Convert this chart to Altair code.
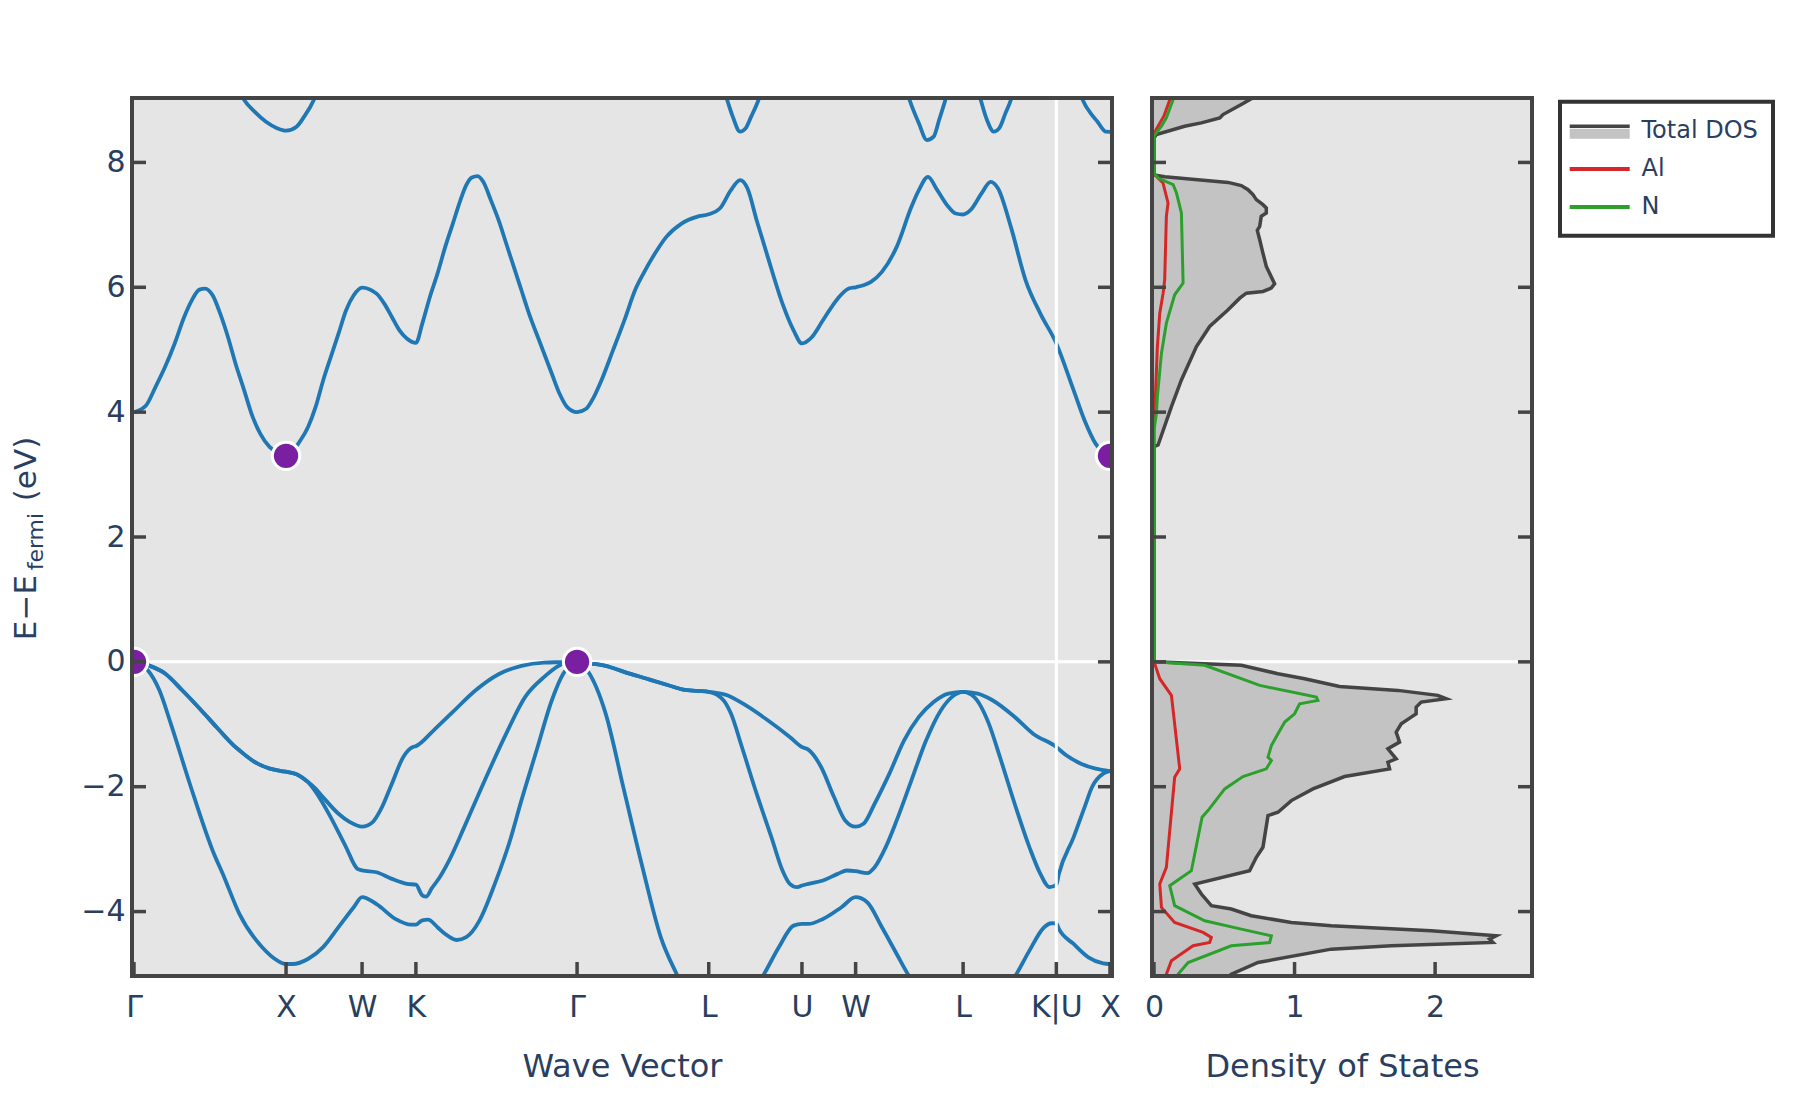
import altair as alt
import pandas as pd

# ---------------- data ----------------
kpoint_labels = ["Γ", "X", "W", "K", "Γ", "L", "U", "W", "L", "K|U", "X"]
kpoint_pos = [0.0, 1.0, 1.5, 1.854, 2.914, 3.780, 4.393, 4.746, 5.453, 6.066, 6.419]
energy_ticks = [-4, -2, 0, 2, 4, 6, 8]
dos_ticks = [0, 1, 2]
E_MIN, E_MAX = -5.0, 9.0
K_END = 6.419
DOS_MAX = 2.675

vb1_k = [0.0, 0.091, 0.167, 0.242, 0.367, 0.517, 0.593, 0.693, 0.843, 0.944, 1.0, 1.044, 1.144, 1.244, 1.345,
         1.445, 1.5, 1.595, 1.721, 1.821, 1.854, 1.896, 1.934, 1.996, 2.047, 2.122, 2.185, 2.272, 2.373, 2.473,
         2.548, 2.648, 2.748, 2.824, 2.914, 2.98, 3.102, 3.223, 3.344, 3.465, 3.574, 3.68, 3.78, 4.0, 4.144,
         4.241, 4.338, 4.393, 4.435, 4.531, 4.653, 4.746, 4.822, 4.919, 5.016, 5.089, 5.27, 5.453, 5.62, 5.804,
         5.889, 5.986, 6.034, 6.066, 6.083, 6.18, 6.277, 6.374, 6.419]
vb1_e = [0.0, -0.134, -0.455, -0.989, -1.952, -3.021, -3.449, -4.037, -4.572, -4.786, -4.84, -4.84, -4.76, -4.57,
         -4.25, -3.93, -3.77, -3.88, -4.12, -4.21, -4.21, -4.14, -4.13, -4.25, -4.36, -4.455, -4.41, -4.144,
         -3.556, -2.861, -2.219, -1.417, -0.615, -0.187, 0.0, -0.134, -0.829, -2.059, -3.289, -4.412, -5.027,
         -5.55, -5.9, -5.55, -5.0, -4.572, -4.225, -4.198, -4.198, -4.118, -3.93, -3.77, -3.85, -4.251, -4.679,
         -5.0, -5.6, -5.9, -5.6, -5.0, -4.626, -4.251, -4.187, -4.19, -4.278, -4.519, -4.733, -4.829, -4.84]

vb2_k = [0.0, 0.091, 0.204, 0.317, 0.442, 0.542, 0.655, 0.693, 0.793, 0.893, 0.969, 1.0, 1.069, 1.144, 1.194,
         1.294, 1.395, 1.47, 1.5, 1.595, 1.696, 1.796, 1.854, 1.896, 1.921, 1.96, 1.996, 2.072, 2.172, 2.297,
         2.448, 2.573, 2.698, 2.824, 2.914, 3.005, 3.102, 3.223, 3.368, 3.514, 3.611, 3.707, 3.78, 3.877, 3.926,
         3.998, 4.095, 4.192, 4.265, 4.313, 4.362, 4.393, 4.435, 4.531, 4.628, 4.689, 4.746, 4.822, 4.871, 4.944,
         5.016, 5.113, 5.210, 5.307, 5.380, 5.453, 5.525, 5.622, 5.695, 5.792, 5.889, 5.961, 6.022, 6.066, 6.083,
         6.180, 6.252, 6.301, 6.374, 6.419]
vb2_e = [0.0, -0.053, -0.187, -0.455, -0.775, -1.043, -1.337, -1.417, -1.604, -1.711, -1.749, -1.76, -1.80,
         -1.925, -2.08, -2.49, -2.97, -3.316, -3.34, -3.37, -3.476, -3.556, -3.57, -3.74, -3.76, -3.62, -3.503,
         -3.182, -2.647, -1.952, -1.15, -0.561, -0.241, -0.027, 0.0, -0.027, -0.064, -0.16, -0.267, -0.374,
         -0.444, -0.465, -0.48, -0.615, -0.829, -1.364, -2.112, -2.807, -3.342, -3.556, -3.61, -3.583, -3.556,
         -3.503, -3.396, -3.342, -3.353, -3.385, -3.289, -2.968, -2.54, -1.898, -1.257, -0.775, -0.561, -0.48,
         -0.561, -0.989, -1.524, -2.273, -2.968, -3.396, -3.61, -3.57, -3.396, -2.807, -2.326, -2.005, -1.791,
         -1.75]

vb3_k = [0.0, 0.091, 0.204, 0.317, 0.442, 0.542, 0.655, 0.693, 0.793, 0.893, 0.969, 1.0, 1.069, 1.144, 1.194,
         1.244, 1.345, 1.42, 1.5, 1.57, 1.62, 1.696, 1.771, 1.834, 1.854, 1.971, 2.097, 2.247, 2.398, 2.548,
         2.698, 2.799, 2.914, 3.005, 3.102, 3.223, 3.368, 3.514, 3.611, 3.707, 3.78, 3.901, 4.022, 4.168, 4.313,
         4.393, 4.435, 4.519, 4.604, 4.677, 4.746, 4.798, 4.871, 4.968, 5.065, 5.162, 5.259, 5.356, 5.453, 5.549,
         5.646, 5.792, 5.913, 6.066, 6.131, 6.228, 6.325, 6.419]
vb3_e = [0.0, -0.053, -0.187, -0.455, -0.775, -1.043, -1.337, -1.417, -1.604, -1.711, -1.749, -1.76, -1.80,
         -1.925, -2.03, -2.17, -2.433, -2.567, -2.64, -2.567, -2.38, -1.952, -1.524, -1.364, -1.35, -1.096,
         -0.802, -0.455, -0.198, -0.064, -0.011, -0.005, 0.0, -0.027, -0.064, -0.16, -0.267, -0.374, -0.444,
         -0.465, -0.48, -0.535, -0.695, -0.936, -1.203, -1.364, -1.406, -1.684, -2.166, -2.54, -2.64, -2.594,
         -2.273, -1.791, -1.257, -0.882, -0.642, -0.508, -0.48, -0.508, -0.615, -0.882, -1.15, -1.364, -1.497,
         -1.631, -1.711, -1.75]

cb1_k = [0.0, 0.079, 0.141, 0.204, 0.267, 0.33, 0.38, 0.43, 0.467, 0.517, 0.567, 0.618, 0.668, 0.718, 0.781,
         0.831, 0.893, 0.956, 1.0, 1.094, 1.144, 1.194, 1.244, 1.294, 1.345, 1.395, 1.445, 1.5, 1.595, 1.646,
         1.696, 1.746, 1.796, 1.854, 1.896, 1.946, 1.996, 2.047, 2.097, 2.147, 2.185, 2.222, 2.26, 2.297, 2.347,
         2.398, 2.448, 2.498, 2.548, 2.598, 2.673, 2.748, 2.799, 2.849, 2.914, 2.974, 3.024, 3.074, 3.150, 3.225,
         3.300, 3.350, 3.426, 3.501, 3.601, 3.701, 3.78, 3.853, 3.926, 3.986, 4.035, 4.095, 4.168, 4.265, 4.338,
         4.393, 4.459, 4.531, 4.628, 4.701, 4.746, 4.798, 4.847, 4.919, 5.016, 5.113, 5.162, 5.222, 5.283, 5.356,
         5.404, 5.453, 5.501, 5.574, 5.634, 5.683, 5.767, 5.864, 5.961, 6.066, 6.180, 6.252, 6.325, 6.419]
cb1_e = [4.0, 4.107, 4.401, 4.722, 5.096, 5.524, 5.791, 5.963, 5.979, 5.872, 5.578, 5.203, 4.775, 4.401, 3.920,
         3.652, 3.439, 3.342, 3.30, 3.545, 3.759, 4.080, 4.508, 4.882, 5.257, 5.631, 5.872, 5.995, 5.898, 5.738,
         5.524, 5.310, 5.176, 5.11, 5.417, 5.845, 6.219, 6.647, 7.021, 7.396, 7.636, 7.759, 7.781, 7.690, 7.396,
         7.075, 6.701, 6.326, 5.952, 5.578, 5.096, 4.615, 4.294, 4.080, 4.0, 4.053, 4.241, 4.508, 4.989, 5.471,
         5.979, 6.219, 6.540, 6.807, 7.021, 7.128, 7.17, 7.262, 7.556, 7.717, 7.583, 7.075, 6.487, 5.738, 5.310,
         5.10, 5.203, 5.471, 5.818, 5.979, 6.0, 6.032, 6.086, 6.246, 6.647, 7.289, 7.556, 7.770, 7.556, 7.289,
         7.182, 7.166, 7.235, 7.503, 7.690, 7.583, 6.968, 6.112, 5.578, 5.10, 4.348, 3.866, 3.492, 3.30]

cb2_k = [0.60, 0.718, 0.793, 0.868, 0.944, 1.0, 1.069, 1.119, 1.182, 1.26, 3.82, 3.901, 3.938, 3.986, 4.022,
         4.059, 4.107, 4.18, 5.03, 5.101, 5.162, 5.215, 5.259, 5.295, 5.336, 5.40, 5.50, 5.569, 5.610, 5.654,
         5.690, 5.731, 5.767, 5.83, 6.17, 6.240, 6.301, 6.337, 6.393, 6.419]
cb2_e = [9.8, 9.027, 8.813, 8.652, 8.545, 8.508, 8.572, 8.733, 9.0, 9.6, 9.6, 9.0, 8.733, 8.492, 8.545, 8.733,
         9.0, 9.6, 9.6, 9.0, 8.626, 8.358, 8.412, 8.679, 9.0, 9.6, 9.6, 9.0, 8.679, 8.492, 8.545, 8.786, 9.0,
         9.6, 9.6, 9.0, 8.759, 8.652, 8.492, 8.49]

extrema_k = [0.0, 1.0, 2.914, 6.419]
extrema_e = [0.0, 3.30, 0.0, 3.30]

dos_total_e = [-5.1, -5.003, -4.816, -4.602, -4.548, -4.495, -4.441, -4.388, -4.307, -4.227, -4.174, -4.067,
               -3.960, -3.906, -3.719, -3.559, -3.345, -3.131, -2.971, -2.463, -2.409, -2.222, -2.035, -1.837,
               -1.714, -1.607, -1.553, -1.393, -1.286, -1.126, -0.992, -0.885, -0.832, -0.725, -0.644, -0.591,
               -0.537, -0.457, -0.393, -0.270, -0.190, -0.056, 0.0, 3.446, 3.473, 4.088, 4.516, 5.051, 5.372,
               5.639, 5.826, 5.906, 5.933, 5.987, 6.056, 6.334, 6.548, 6.762, 6.912, 6.976, 7.136, 7.190, 7.270,
               7.323, 7.404, 7.484, 7.564, 7.63, 7.68, 7.77, 7.80, 8.39, 8.446, 8.580, 8.634, 8.714, 8.767, 8.928,
               9.035, 9.1]
dos_total = [0.50, 0.550, 0.740, 1.261, 1.688, 2.411, 2.387, 2.434, 1.972, 1.261, 0.977, 0.692, 0.550, 0.408,
             0.337, 0.290, 0.680, 0.728, 0.775, 0.811, 0.882, 0.977, 1.131, 1.356, 1.676, 1.664, 1.723, 1.664,
             1.747, 1.723, 1.759, 1.830, 1.865, 1.865, 1.901, 2.079, 2.019, 1.735, 1.320, 1.072, 0.882, 0.621,
             0.0, 0.0, 0.029, 0.124, 0.195, 0.302, 0.396, 0.527, 0.610, 0.657, 0.775, 0.834, 0.858, 0.799, 0.775,
             0.752, 0.735, 0.752, 0.763, 0.799, 0.799, 0.775, 0.728, 0.704, 0.669, 0.621, 0.527, 0.076, 0.0, 0.0,
             0.017, 0.218, 0.337, 0.468, 0.491, 0.621, 0.704, 0.74]

dos_al_e = [-5.1, -5.003, -4.789, -4.548, -4.495, -4.414, -4.334, -4.174, -3.933, -3.559, -3.292, -1.848,
            -1.714, -0.537, -0.27, -0.03, 0.0, 3.9, 3.981, 4.249, 5.051, 5.585, 5.906, 6.120, 7.136, 7.35, 7.671,
            7.778, 7.82, 8.45, 8.526, 8.74, 9.05, 9.1]
dos_al = [0.08, 0.088, 0.124, 0.278, 0.396, 0.408, 0.349, 0.147, 0.053, 0.041, 0.088, 0.147, 0.183, 0.124,
          0.041, 0.005, 0.0, 0.0, 0.005, 0.010, 0.024, 0.041, 0.065, 0.076, 0.088, 0.100, 0.064, 0.017, 0.0,
          0.0, 0.015, 0.07, 0.12, 0.13]

dos_n_e = [-5.1, -5.003, -4.816, -4.548, -4.495, -4.388, -4.281, -4.147, -3.906, -3.586, -3.345, -2.489,
           -2.382, -2.035, -1.837, -1.714, -1.580, -1.527, -1.340, -1.152, -0.965, -0.832, -0.671, -0.618,
           -0.564, -0.377, -0.056, 0.0, 3.71, 3.981, 4.249, 4.944, 5.425, 5.88, 6.067, 7.19, 7.51, 7.644, 7.75,
           7.83, 8.42, 8.473, 8.58, 8.714, 9.008, 9.1]
dos_n = [0.16, 0.171, 0.243, 0.550, 0.823, 0.835, 0.621, 0.361, 0.147, 0.112, 0.266, 0.342, 0.384, 0.503,
         0.633, 0.799, 0.835, 0.811, 0.835, 0.882, 0.93, 1.0, 1.036, 1.166, 1.155, 0.752, 0.361, 0.0, 0.0,
         0.017, 0.024, 0.053, 0.088, 0.147, 0.207, 0.195, 0.16, 0.136, 0.029, 0.0, 0.0, 0.017, 0.053, 0.088,
         0.136, 0.15]

legend_names = ["Total DOS", "Al", "N"]
legend_colors = ["#444444", "#d62728", "#2ca02c"]

# ---------------- styling ----------------
FONT = "DejaVu Sans"
TEXT = "#2a3f5f"
FRAME = "#444444"
BG = "#e5e5e5"
BAND_COLOR = "#1f77b4"
DOT_COLOR = "#7B1FA2"
FILL_GREY = "#c3c3c3"
BW, BH = 976, 874
DW = 376
TICK = 12

# ---------------- frames ----------------
band_rows = []
for name, ks, es in [("VB1", vb1_k, vb1_e), ("VB2", vb2_k, vb2_e), ("VB3", vb3_k, vb3_e),
                     ("CB1", cb1_k, cb1_e), ("CB2", cb2_k, cb2_e)]:
    for i, (k, e) in enumerate(zip(ks, es)):
        band_rows.append({"band": name, "k": k, "E": e, "idx": i})
band_df = pd.DataFrame(band_rows)
dots_df = pd.DataFrame({"k": extrema_k, "E": extrema_e})
ktick_df = pd.DataFrame({"k": kpoint_pos, "label": kpoint_labels})
etick_df = pd.DataFrame({"E": energy_ticks})
zero_df = pd.DataFrame({"E": [0.0]})
one_df = pd.DataFrame({"a": [0]})


def dos_frame(es, ds):
    return pd.DataFrame({"E": es, "D": ds, "base": [0.0] * len(es), "idx": list(range(len(es)))})


tot_df = dos_frame(dos_total_e, dos_total)
al_df = dos_frame(dos_al_e, dos_al)
n_df = dos_frame(dos_n_e, dos_n)
dtick_df = pd.DataFrame({"D": dos_ticks})

# ---------------- encodings ----------------
label_expr = " : ".join(
    f"abs(datum.value - {p}) < 0.0005 ? '{lab}'" for p, lab in zip(kpoint_pos, kpoint_labels)
) + " : ''"

axis_common = dict(ticks=False, tickSize=0, domain=False, grid=False, labelFontSize=30, labelColor=TEXT,
                   labelFont=FONT, titleFont=FONT, titleFontSize=32, titleColor=TEXT,
                   titleFontWeight="normal", labelFlush=False, labelOverlap=False)

k_scale = alt.Scale(domain=[0, K_END], nice=False, zero=False)
k_axis = alt.Axis(values=kpoint_pos, labelExpr=label_expr, title="Wave Vector", labelPadding=18,
                  titlePadding=29, **axis_common)
e_scale = alt.Scale(domain=[E_MIN, E_MAX], nice=False, zero=False)
e_axis = alt.Axis(values=energy_ticks, title=None, labelPadding=9, **axis_common)
d_scale = alt.Scale(domain=[0, DOS_MAX], nice=False, zero=False)
d_axis = alt.Axis(values=dos_ticks, title="Density of States", labelPadding=18, titlePadding=29,
                  **axis_common)


def kx():
    return alt.X("k:Q", scale=k_scale, axis=k_axis)


def ey():
    return alt.Y("E:Q", scale=e_scale, axis=e_axis)


def dx():
    return alt.X("D:Q", scale=d_scale, axis=d_axis, stack=None)


def dy():
    return alt.Y("E:Q", scale=e_scale, axis=None)


# ---------------- band panel ----------------
b_zero = alt.Chart(zero_df).mark_rule(color="white", strokeWidth=3).encode(y=ey())
b_lines = alt.Chart(band_df).mark_line(color=BAND_COLOR, strokeWidth=3.8, interpolate="monotone",
                                       clip=True).encode(x=kx(), y=ey(), detail="band:N", order="idx:Q")
b_kuline = alt.Chart(ktick_df).transform_filter("indexof(datum.label, '|') >= 0").mark_rule(
    color="white", strokeWidth=3).encode(x=kx())
b_dots = alt.Chart(dots_df).mark_circle(size=750, fill=DOT_COLOR, stroke="white", strokeWidth=3, opacity=1,
                                        clip=True).encode(x=kx(), y=ey())
b_lt = alt.Chart(etick_df).mark_rule(color=FRAME, strokeWidth=3.5).encode(
    y=ey(), x=alt.value(0), x2=alt.value(TICK))
b_rt = alt.Chart(etick_df).mark_rule(color=FRAME, strokeWidth=3.5).encode(
    y=ey(), x=alt.value(BW - TICK), x2=alt.value(BW))
b_bt = alt.Chart(ktick_df).mark_rule(color=FRAME, strokeWidth=3.5).encode(
    x=kx(), y=alt.value(BH - TICK), y2=alt.value(BH))
b_border = alt.Chart(one_df).mark_rect(fill="transparent", stroke=FRAME, strokeWidth=4).encode(
    x=alt.value(-2), x2=alt.value(BW + 2), y=alt.value(-2), y2=alt.value(BH + 2))

t1 = alt.Chart(one_df).mark_text(text="E−E", angle=270, align="center", baseline="alphabetic", fontSize=31,
                                 font=FONT, color=TEXT).encode(x=alt.value(-98), y=alt.value(507.6))
t2 = alt.Chart(one_df).mark_text(text="fermi", angle=270, align="center", baseline="alphabetic", fontSize=22,
                                 font=FONT, color=TEXT).encode(x=alt.value(-91), y=alt.value(441.6))
t3 = alt.Chart(one_df).mark_text(text="(eV)", angle=270, align="center", baseline="alphabetic", fontSize=31,
                                 font=FONT, color=TEXT).encode(x=alt.value(-98), y=alt.value(369))

band = alt.layer(b_zero, b_lines, b_kuline, b_dots, b_lt, b_rt, b_bt, b_border, t1, t2, t3).properties(
    width=BW, height=BH, view=alt.ViewBackground(fill=BG, stroke="transparent"))

# ---------------- DOS panel ----------------
d_area = alt.Chart(tot_df).mark_area(orient="horizontal", color=FILL_GREY, clip=True, opacity=1).encode(
    x=dx(), x2="base:Q", y=dy())
d_zero = alt.Chart(zero_df).mark_rule(color="white", strokeWidth=3).encode(y=dy())
d_tot = alt.Chart(tot_df).mark_line(color=legend_colors[0], strokeWidth=3.5, clip=True).encode(
    x=dx(), y=dy(), order="idx:Q")
d_al = alt.Chart(al_df).mark_line(color=legend_colors[1], strokeWidth=3, clip=True).encode(
    x=dx(), y=dy(), order="idx:Q")
d_n = alt.Chart(n_df).mark_line(color=legend_colors[2], strokeWidth=3, clip=True).encode(
    x=dx(), y=dy(), order="idx:Q")
d_lt = alt.Chart(etick_df).mark_rule(color=FRAME, strokeWidth=3.5).encode(
    y=dy(), x=alt.value(0), x2=alt.value(TICK))
d_rt = alt.Chart(etick_df).mark_rule(color=FRAME, strokeWidth=3.5).encode(
    y=dy(), x=alt.value(DW - TICK), x2=alt.value(DW))
d_bt = alt.Chart(dtick_df).mark_rule(color=FRAME, strokeWidth=3.5).encode(
    x=dx(), y=alt.value(BH - TICK), y2=alt.value(BH))
d_border = alt.Chart(one_df).mark_rect(fill="transparent", stroke=FRAME, strokeWidth=4).encode(
    x=alt.value(-2), x2=alt.value(DW + 2), y=alt.value(-2), y2=alt.value(BH + 2))

dos = alt.layer(d_area, d_zero, d_tot, d_al, d_n, d_lt, d_rt, d_bt, d_border).properties(
    width=DW, height=BH, view=alt.ViewBackground(fill=BG, stroke="transparent"))

# ---------------- legend panel ----------------
leg_df = pd.DataFrame({"name": legend_names})
ly = alt.Y("name:N", scale=alt.Scale(type="point", domain=legend_names, range=[30.8, 107.0], padding=0),
           axis=None)
lc = alt.Color("name:N", scale=alt.Scale(domain=legend_names, range=legend_colors), legend=None)
is_total = alt.datum.name == legend_names[0]

l_grey = alt.Chart(leg_df).transform_filter(is_total).mark_rule(
    color=FILL_GREY, strokeWidth=10, yOffset=2.9, strokeCap="butt").encode(
    y=ly, x=alt.value(11.7), x2=alt.value(71.7))
l_dark = alt.Chart(leg_df).transform_filter(is_total).mark_rule(
    strokeWidth=3.5, yOffset=-4.5, strokeCap="butt").encode(
    y=ly, color=lc, x=alt.value(11.7), x2=alt.value(71.7))
l_other = alt.Chart(leg_df).transform_filter(~is_total).mark_rule(
    strokeWidth=4, strokeCap="butt").encode(y=ly, color=lc, x=alt.value(11.7), x2=alt.value(71.7))
l_text = alt.Chart(leg_df).mark_text(align="left", baseline="middle", fontSize=24, font=FONT,
                                     color=TEXT).encode(y=ly, x=alt.value(83.5), text="name:N")
l_border = alt.Chart(one_df).mark_rect(fill="transparent", stroke="#333333", strokeWidth=4).encode(
    x=alt.value(2), x2=alt.value(215), y=alt.value(1.7), y2=alt.value(135.7))

legend = alt.layer(l_grey, l_dark, l_other, l_text, l_border).properties(
    width=219, height=142, view=alt.ViewBackground(fill="white", stroke="transparent"))

chart = alt.hconcat(alt.hconcat(band, dos, spacing=23), legend, spacing=24).properties(
    padding={"left": 3, "top": 88, "right": 5, "bottom": 5}
).configure(font=FONT).configure_view(strokeWidth=0)

chart.save("out.html", embed_options={"renderer": "svg", "actions": False})
